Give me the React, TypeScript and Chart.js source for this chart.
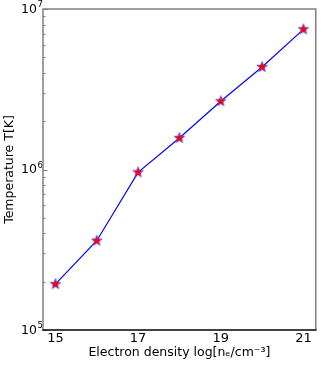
import React, { useEffect, useRef } from "react";
import { Chart, registerables } from "chart.js";

Chart.register(...registerables);

const densities = [15, 16, 17, 18, 19, 20, 21];
const temperatures = [1.93e5, 3.6e5, 9.6e5, 1.57e6, 2.66e6, 4.35e6, 7.47e6];
const xTickValues = [15, 17, 19, 21];
const yTickValues = [1e5, 1e6, 1e7];
const yTickBase = "10";
const yTickExponents = ["5", "6", "7"];
const xTitle = "Electron density log[n\u2091/cm\u207B\u00B3]";
const yTitle = "Temperature T[K]";

const FONT = "'DejaVu Sans', sans-serif";

function makeStar(): HTMLCanvasElement {
  const c = document.createElement("canvas");
  c.width = 14;
  c.height = 14;
  const ctx = c.getContext("2d")!;
  const cx = 7, cy = 7, R = 5.6, r = 2.4;
  ctx.beginPath();
  for (let i = 0; i < 10; i++) {
    const rad = i % 2 === 0 ? R : r;
    const a = -Math.PI / 2 + (i * Math.PI) / 5;
    const px = cx + rad * Math.cos(a);
    const py = cy + rad * Math.sin(a);
    if (i === 0) ctx.moveTo(px, py);
    else ctx.lineTo(px, py);
  }
  ctx.closePath();
  ctx.fillStyle = "#ff0000";
  ctx.fill();
  ctx.lineWidth = 0.8;
  ctx.strokeStyle = "rgba(70,70,255,0.85)";
  ctx.stroke();
  return c;
}

const framePlugin = {
  id: "frame",
  afterDraw(chart: any) {
    const { ctx, chartArea } = chart;
    const { left, right, top, bottom } = chartArea;
    const yScale = chart.scales.y;
    ctx.save();
    // minor/major ticks on left spine, pointing inward
    ctx.strokeStyle = "#808080";
    ctx.lineWidth = 1;
    for (let dec = 1e5; dec < 1e7; dec *= 10) {
      for (let m = 2; m <= 9; m++) {
        const y = Math.round(yScale.getPixelForValue(m * dec)) + 0.5;
        ctx.beginPath();
        ctx.moveTo(left, y);
        ctx.lineTo(left + 2.5, y);
        ctx.stroke();
      }
    }
    for (const v of yTickValues) {
      const y = Math.round(yScale.getPixelForValue(v)) + 0.5;
      ctx.beginPath();
      ctx.moveTo(left, y);
      ctx.lineTo(left + 4.5, y);
      ctx.stroke();
    }
    // y tick labels: 10 with superscript exponent
    ctx.fillStyle = "#000";
    yTickValues.forEach((v, i) => {
      const y = yScale.getPixelForValue(v);
      const xr = left - 6;
      ctx.font = `12.5px ${FONT}`;
      ctx.textAlign = "right";
      ctx.textBaseline = "middle";
      ctx.fillText(yTickBase, xr, y + 0.5);
      ctx.font = `8.5px ${FONT}`;
      ctx.textAlign = "left";
      ctx.textBaseline = "alphabetic";
      ctx.fillText(yTickExponents[i], xr + 0.5, y - 2);
    });
    // spines
    ctx.lineWidth = 1.5;
    ctx.strokeStyle = "#808080";
    ctx.beginPath();
    ctx.moveTo(left, bottom);
    ctx.lineTo(left, top);
    ctx.lineTo(right, top);
    ctx.lineTo(right, bottom);
    ctx.stroke();
    ctx.strokeStyle = "#000000";
    ctx.beginPath();
    ctx.moveTo(left - 0.75, bottom);
    ctx.lineTo(right + 0.75, bottom);
    ctx.stroke();
    ctx.restore();
  },
};

export default function App() {
  const ref = useRef<HTMLCanvasElement | null>(null);

  useEffect(() => {
    if (!ref.current) return;
    const star = makeStar();
    const chart = new Chart(ref.current, {
      type: "line",
      data: {
        datasets: [
          {
            data: densities.map((d, i) => ({ x: d, y: temperatures[i] })),
            borderColor: "#0000ff",
            borderWidth: 1.2,
            pointStyle: star as any,
            pointRadius: 7,
            pointHoverRadius: 7,
            fill: false,
            tension: 0,
          },
        ],
      },
      options: {
        responsive: false,
        animation: false,
        events: [],
        layout: { padding: { top: 9, right: 5, left: 0, bottom: 0 } },
        plugins: {
          legend: { display: false },
          tooltip: { enabled: false },
        },
        scales: {
          x: {
            type: "linear",
            min: 14.7,
            max: 21.3,
            grid: { display: false, drawTicks: false },
            border: { display: false },
            afterBuildTicks: (s: any) => {
              s.ticks = xTickValues.map((v) => ({ value: v }));
            },
            afterFit: (s: any) => {
              s.height = 36;
              s.paddingLeft = 0;
              s.paddingRight = 0;
            },
            ticks: {
              color: "#000",
              padding: 1,
              maxRotation: 0,
              autoSkip: false,
              font: { family: FONT, size: 13, lineHeight: 1.2 },
              callback: (v: any) => String(v),
            },
            title: {
              display: true,
              text: xTitle,
              color: "#000",
              padding: { top: 0, bottom: 6 },
              font: { family: FONT, size: 12.5, lineHeight: 1.2 },
            },
          },
          y: {
            type: "logarithmic",
            min: 1e5,
            max: 1e7,
            grid: { display: false, drawTicks: false },
            border: { display: false },
            afterBuildTicks: (s: any) => {
              s.ticks = yTickValues.map((v) => ({ value: v }));
            },
            afterFit: (s: any) => {
              s.width = 43;
              s.paddingTop = 0;
              s.paddingBottom = 0;
            },
            ticks: { display: false },
            title: {
              display: true,
              text: yTitle,
              color: "#000",
              padding: { top: 2, bottom: 0 },
              font: { family: FONT, size: 12.5, lineHeight: 1.2 },
            },
          },
        },
      },
      plugins: [framePlugin],
    });
    return () => chart.destroy();
  }, []);

  return (
    <div style={{ position: "fixed", left: 0, top: 0, width: 324, height: 366, background: "#fff" }}>
      <canvas ref={ref} width={324} height={366} style={{ display: "block" }} />
    </div>
  );
}
